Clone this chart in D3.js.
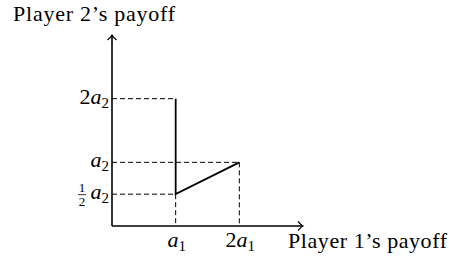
<!DOCTYPE html>
<html>
<head>
<meta charset="utf-8">
<script src="https://cdn.jsdelivr.net/npm/d3@7"></script>
<style>
  body { margin: 0; background: #fff; }
  text { font-family: "Liberation Serif", "Times New Roman", serif; fill: #000; }
</style>
</head>
<body>
<div id="chart-area"></div>
<script>
// payoff values in units of a1 (x) and a2 (y)
const xTicks = [1, 2];
const xTickLabels = [["", "a", "1"], ["2", "a", "1"]];
const yTicks = [2, 1, 0.5];
const yTickLabels = [["2", "a", "2"], ["", "a", "2"], ["frac", "a", "2"]];
const frontierX = [1, 1, 2];
const frontierY = [2, 0.5, 1];
const axisMax = 3;
const xTitle = "Player 1\u2019s payoff";
const yTitle = "Player 2\u2019s payoff";

let width = 449, height = 261;

let svg = d3.select("#chart-area").append("svg")
  .attr("width", width)
  .attr("height", height);

let x = d3.scaleLinear().domain([0, axisMax]).range([112, 303]);
let y = d3.scaleLinear().domain([0, axisMax]).range([226, 35]);

// dashed guide lines
let guides = svg.append("g")
  .attr("stroke", "#000")
  .attr("stroke-width", 1)
  .attr("stroke-dasharray", "5,3")
  .attr("fill", "none");

frontierX.forEach(function(px, i){
  let py = frontierY[i];
  // horizontal to the y axis
  guides.append("line")
    .attr("x1", x(0)).attr("x2", x(px))
    .attr("y1", y(py)).attr("y2", y(py));
});
// vertical drops to the x axis (from lowest point above each tick)
xTicks.forEach(function(t){
  let lowest = d3.min(frontierY.filter((v, i) => frontierX[i] === t));
  guides.append("line")
    .attr("x1", x(t)).attr("x2", x(t))
    .attr("y1", y(lowest)).attr("y2", y(0));
});

// axes
let axes = svg.append("g").attr("stroke", "#000").attr("stroke-width", 1.6).attr("fill", "none");
axes.append("line").attr("x1", x(0)).attr("y1", y(0)).attr("x2", x(axisMax) - 0.5).attr("y2", y(0));
axes.append("line").attr("x1", x(0)).attr("y1", y(0)).attr("x2", x(0)).attr("y2", y(axisMax) + 0.5);

// arrow heads (latex style)
let tipX = x(axisMax), tipY = y(axisMax);
axes.append("path")
  .attr("stroke-width", 1.2)
  .attr("d", "M" + (tipX - 5) + "," + (y(0) - 4.5) + " Q" + (tipX - 2) + "," + (y(0) - 1) + " " + tipX + "," + y(0) +
             " Q" + (tipX - 2) + "," + (y(0) + 1) + " " + (tipX - 5) + "," + (y(0) + 4.5));
axes.append("path")
  .attr("stroke-width", 1.2)
  .attr("d", "M" + (x(0) - 4.5) + "," + (tipY + 5) + " Q" + (x(0) - 1) + "," + (tipY + 2) + " " + x(0) + "," + tipY +
             " Q" + (x(0) + 1) + "," + (tipY + 2) + " " + (x(0) + 4.5) + "," + (tipY + 5));

// frontier
let line = d3.line()
  .x(function(d){ return x(d[0]); })
  .y(function(d){ return y(d[1]); });

svg.append("path")
  .datum(frontierX.map((v, i) => [v, frontierY[i]]))
  .attr("d", line)
  .attr("fill", "none")
  .attr("stroke", "#000")
  .attr("stroke-width", 1.8)
  .attr("stroke-linejoin", "miter");

// label helper: [prefix, italic var, subscript]
function mathLabel(g, parts, px, py, anchor){
  let t = g.append("text")
    .attr("x", px)
    .attr("y", py)
    .attr("font-size", "22px")
    .attr("text-anchor", anchor);
  if(parts[0] !== "" && parts[0] !== "frac") t.append("tspan").text(parts[0]);
  t.append("tspan").attr("font-style", "italic").text(parts[1]);
  t.append("tspan").attr("font-size", "15px").attr("dy", 4).text(parts[2]);
  return t;
}

let labels = svg.append("g");

xTicks.forEach(function(t, i){
  mathLabel(labels, xTickLabels[i], x(t) + 1, 247, "middle");
});

yTicks.forEach(function(t, i){
  let parts = yTickLabels[i];
  mathLabel(labels, parts, 109, y(t) + 5, "end");
  if(parts[0] === "frac"){
    // one half, stacked
    let fx = 82;
    labels.append("text").attr("x", fx).attr("y", y(t) - 2.5)
      .attr("font-size", "13px").attr("text-anchor", "middle").text("1");
    labels.append("line")
      .attr("x1", fx - 4).attr("x2", fx + 4)
      .attr("y1", y(t) + 0.5).attr("y2", y(t) + 0.5)
      .attr("stroke", "#000").attr("stroke-width", 0.8);
    labels.append("text").attr("x", fx).attr("y", y(t) + 12)
      .attr("font-size", "13px").attr("text-anchor", "middle").text("2");
  }
});

// axis titles
svg.append("text")
  .attr("x", 13).attr("y", 21)
  .attr("font-size", "22px")
  .attr("textLength", 162)
  .attr("lengthAdjust", "spacing")
  .text(yTitle);

svg.append("text")
  .attr("x", 288).attr("y", 248)
  .attr("font-size", "22px")
  .attr("textLength", 159)
  .attr("lengthAdjust", "spacing")
  .text(xTitle);
</script>
</body>
</html>
